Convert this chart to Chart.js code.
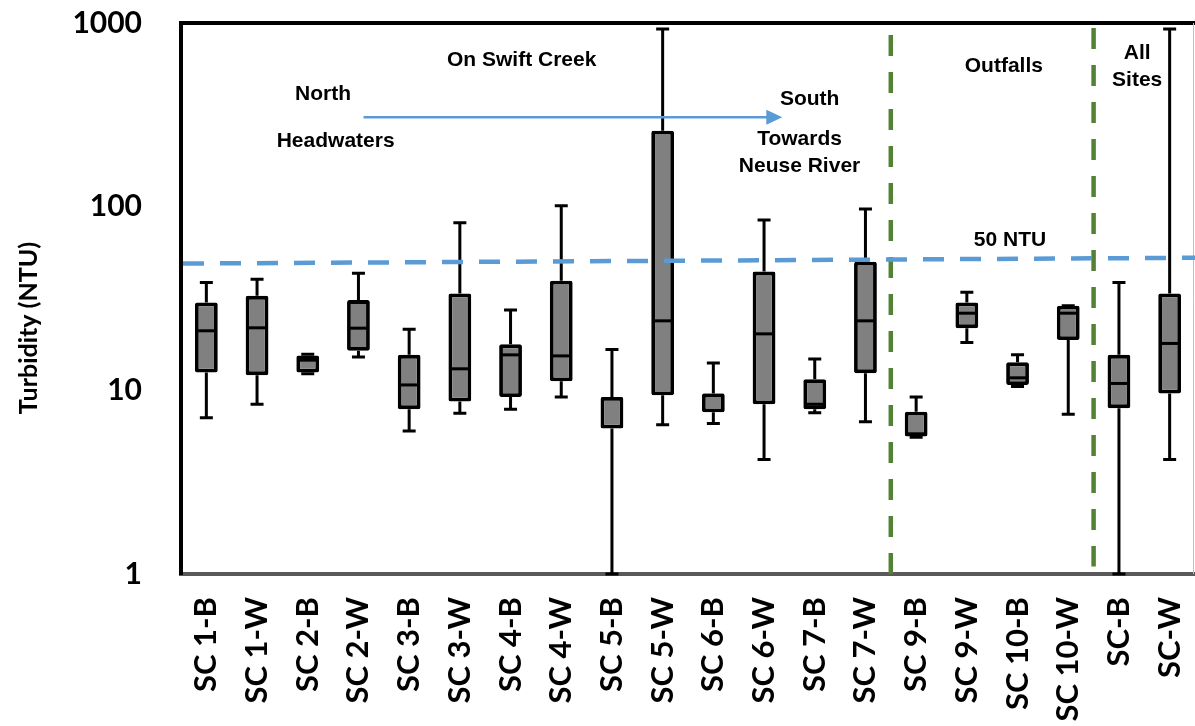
<!DOCTYPE html>
<html>
<head>
<meta charset="utf-8">
<script src="https://cdn.jsdelivr.net/npm/chart.js@4.4.0/dist/chart.umd.min.js"></script>
<style>
  html, body { margin: 0; padding: 0; background: #fff; }
</style>
</head>
<body>
<canvas id="boxChart" width="1195" height="726"></canvas>
<script>
// sampling sites along Swift Creek, then outfalls, then all sites pooled
const sites = ['SC 1-B', 'SC 1-W', 'SC 2-B', 'SC 2-W', 'SC 3-B', 'SC 3-W', 'SC 4-B', 'SC 4-W', 'SC 5-B', 'SC 5-W',
               'SC 6-B', 'SC 6-W', 'SC 7-B', 'SC 7-W', 'SC 9-B', 'SC 9-W', 'SC 10-B', 'SC 10-W', 'SC-B', 'SC-W'];

// turbidity (NTU) box plot stats
const minVals = [7.1, 8.4, 12.3, 15.2, 6.0, 7.5, 7.9, 9.2, 1.0, 6.5, 6.6, 4.2, 7.55, 6.75, 5.55, 18.2, 10.5, 7.4, 1.0, 4.2];
const q1Vals  = [12.5, 12.1, 12.5, 16.4, 7.9, 8.7, 9.2, 11.2, 6.2, 9.4, 7.6, 8.4, 7.9, 12.4, 5.6, 21.8, 10.7, 18.8, 8.0, 9.6];
const medVals = [21.1, 21.9, 14.6, 21.8, 10.7, 13.1, 15.6, 15.4, 9.0, 23.9, 9.4, 20.3, 8.4, 23.9, 5.8, 26.3, 11.7, 26.3, 10.9, 18.0];
const q3Vals  = [30.1, 32.7, 15.5, 31.0, 15.6, 33.7, 17.8, 39.5, 9.2, 259, 9.6, 44.3, 11.5, 50.2, 7.65, 30.1, 14.2, 28.9, 15.6, 33.7];
const maxVals = [38.7, 40.2, 15.7, 43.4, 21.5, 81.8, 27.4, 101, 16.7, 927, 14.1, 84.6, 14.8, 97, 9.2, 34.2, 15.6, 28.9, 38.7, 927];

const yTicks = [1, 10, 100, 1000];

// 50 NTU reference (the original line is drawn slightly tilted)
const limitStart = 49;
const limitEnd = 52.7;

// group separators sit between categories
const groupBreaks = [13.5, 17.5];

// annotation text, placed in data units (category index, NTU)
const notes = [
  { text: 'On Swift Creek', x: 6.22, y: 625 },
  { text: 'North', x: 2.3, y: 410 },
  { text: 'Headwaters', x: 2.55, y: 226 },
  { text: 'South', x: 11.9, y: 385 },
  { text: 'Towards', x: 11.7, y: 233 },
  { text: 'Neuse River', x: 11.7, y: 167 },
  { text: 'Outfalls', x: 15.73, y: 583 },
  { text: 'All', x: 18.36, y: 688 },
  { text: 'Sites', x: 18.36, y: 490 },
  { text: '50 NTU', x: 15.85, y: 66 }
];
const arrowFrom = { x: 3.1, y: 307 };
const arrowTo = { x: 11.36, y: 307 };

const BLUE = '#5B9BD5';
const GREEN = '#548235';

const boxExtras = {
  id: 'boxExtras',
  beforeDatasetsDraw(chart) {
    const { ctx, scales: { x, y } } = chart;
    ctx.save();
    ctx.strokeStyle = '#000';
    ctx.lineWidth = 3;
    sites.forEach((s, i) => {
      const cx = x.getPixelForValue(i);
      const yMax = y.getPixelForValue(maxVals[i]);
      const yMin = y.getPixelForValue(minVals[i]);
      ctx.beginPath();
      ctx.moveTo(cx, yMax); ctx.lineTo(cx, y.getPixelForValue(q3Vals[i]));
      ctx.moveTo(cx, y.getPixelForValue(q1Vals[i])); ctx.lineTo(cx, yMin);
      ctx.moveTo(cx - 6.5, yMax); ctx.lineTo(cx + 6.5, yMax);
      ctx.moveTo(cx - 6.5, yMin); ctx.lineTo(cx + 6.5, yMin);
      ctx.stroke();
    });
    ctx.restore();
  },
  afterDatasetsDraw(chart) {
    const { ctx, chartArea: area, scales: { x, y } } = chart;
    const bars = chart.getDatasetMeta(0).data;
    ctx.save();

    // medians
    ctx.strokeStyle = '#000';
    ctx.lineWidth = 3;
    bars.forEach((bar, i) => {
      const my = y.getPixelForValue(medVals[i]);
      ctx.beginPath();
      ctx.moveTo(bar.x - bar.width / 2 + 1, my);
      ctx.lineTo(bar.x + bar.width / 2 - 1, my);
      ctx.stroke();
    });

    // frame top + right
    ctx.strokeStyle = '#000';
    ctx.lineWidth = 4;
    ctx.beginPath();
    ctx.moveTo(area.left - 2, area.top);
    ctx.lineTo(area.right, area.top);
    ctx.stroke();
    ctx.strokeStyle = '#bfbfbf';
    ctx.lineWidth = 1;
    ctx.beginPath();
    ctx.moveTo(area.right - 1.5, area.top);
    ctx.lineTo(area.right - 1.5, area.bottom);
    ctx.stroke();

    // group separators
    ctx.strokeStyle = GREEN;
    ctx.lineWidth = 4.5;
    ctx.setLineDash([21, 16]);
    groupBreaks.forEach((b, k) => {
      const gx = x.getPixelForValue(b);
      ctx.beginPath();
      ctx.moveTo(gx, y.getPixelForValue(k === 0 ? 860 : 940));
      ctx.lineTo(gx, y.getPixelForValue(k === 0 ? 1 : 1.1));
      ctx.stroke();
    });

    // 50 NTU line
    ctx.strokeStyle = BLUE;
    ctx.lineWidth = 4.5;
    ctx.setLineDash([21, 16]);
    ctx.beginPath();
    ctx.moveTo(area.left + 2, y.getPixelForValue(limitStart));
    ctx.lineTo(area.right, y.getPixelForValue(limitEnd));
    ctx.stroke();
    ctx.setLineDash([]);

    // north -> south arrow
    const ax1 = x.getPixelForValue(arrowFrom.x), ax2 = x.getPixelForValue(arrowTo.x);
    const ay = y.getPixelForValue(arrowFrom.y);
    ctx.strokeStyle = BLUE;
    ctx.fillStyle = BLUE;
    ctx.lineWidth = 2.5;
    ctx.beginPath();
    ctx.moveTo(ax1, ay); ctx.lineTo(ax2 - 14, ay);
    ctx.stroke();
    ctx.beginPath();
    ctx.moveTo(ax2, ay); ctx.lineTo(ax2 - 16, ay - 7.5); ctx.lineTo(ax2 - 16, ay + 7.5);
    ctx.closePath();
    ctx.fill();

    // labels
    ctx.fillStyle = '#000';
    ctx.font = 'bold 21px "Liberation Sans", Arial, sans-serif';
    ctx.textAlign = 'center';
    ctx.textBaseline = 'middle';
    notes.forEach(n => {
      ctx.fillText(n.text, x.getPixelForValue(n.x), y.getPixelForValue(n.y));
    });

    // y axis title
    ctx.font = 'bold 25px Lato, sans-serif';
    ctx.translate(29, 328);
    ctx.rotate(-Math.PI / 2);
    ctx.fillText('Turbidity (NTU)', 0, 0);
    ctx.restore();
  }
};

const ctxBox = document.getElementById('boxChart').getContext('2d');
const boxChart = new Chart(ctxBox, {
  type: 'bar',
  data: {
    labels: sites,
    datasets: [{
      data: sites.map((s, i) => [q1Vals[i], q3Vals[i]]),
      backgroundColor: '#808080',
      borderColor: '#000',
      borderWidth: 3.8,
      borderSkipped: false,
      borderRadius: 2,
      barPercentage: 0.45,
      categoryPercentage: 1
    }]
  },
  options: {
    responsive: false,
    animation: false,
    layout: {
      padding: { top: 23, left: 0, right: 0, bottom: 0 }
    },
    plugins: {
      legend: { display: false },
      tooltip: { enabled: false }
    },
    scales: {
      x: {
        grid: { display: false, drawTicks: false },
        border: { color: '#595959', width: 4 },
        ticks: {
          color: '#000',
          font: { family: 'Lato', weight: 'bold', size: 31 },
          minRotation: 90,
          maxRotation: 90,
          autoSkip: false,
          padding: 23
        },
        afterFit: s => {
          s.height = 152;
          s.paddingLeft = 0;
          s.paddingRight = 0;
        }
      },
      y: {
        type: 'logarithmic',
        min: 1,
        max: 1000,
        grid: { display: false, drawTicks: false },
        border: { color: '#000', width: 4 },
        afterBuildTicks: s => { s.ticks = yTicks.map(v => ({ value: v })); },
        ticks: {
          color: '#000',
          font: { family: 'Lato', weight: 'bold', size: 30 },
          padding: 39,
          callback: v => String(v)
        },
        afterFit: s => {
          s.width = 181;
          s.paddingTop = 0;
          s.paddingBottom = 0;
        }
      }
    }
  },
  plugins: [boxExtras]
});
</script>
</body>
</html>
